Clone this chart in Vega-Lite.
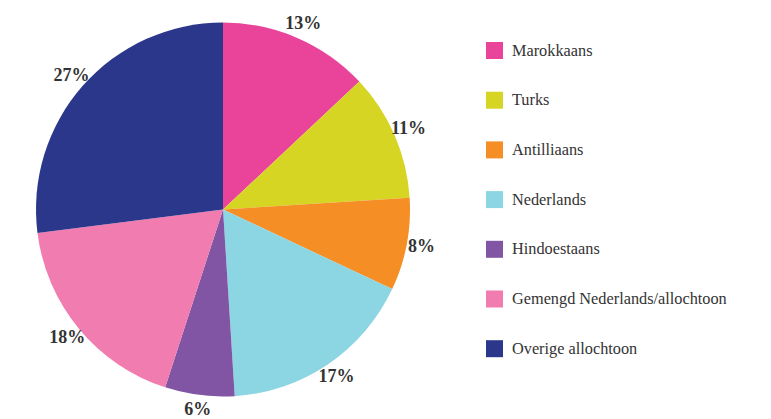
{
  "$schema": "https://vega.github.io/schema/vega-lite/v6.json",
  "width": 446,
  "height": 419,
  "padding": {"left": 0, "top": 0, "right": 325, "bottom": 0},
  "autosize": {"type": "none"},
  "background": "white",
  "config": {"view": {"stroke": null}},
  "data": {
    "values": [
      {"groep": "Marokkaans", "pct": 13, "volgorde": 1, "label": "13%"},
      {"groep": "Turks", "pct": 11, "volgorde": 2, "label": "11%"},
      {"groep": "Antilliaans", "pct": 8, "volgorde": 3, "label": "8%"},
      {"groep": "Nederlands", "pct": 17, "volgorde": 4, "label": "17%"},
      {"groep": "Hindoestaans", "pct": 6, "volgorde": 5, "label": "6%"},
      {"groep": "Gemengd Nederlands/allochtoon", "pct": 18, "volgorde": 6, "label": "18%"},
      {"groep": "Overige allochtoon", "pct": 27, "volgorde": 7, "label": "27%"}
    ]
  },
  "encoding": {
    "theta": {"field": "pct", "type": "quantitative", "stack": true},
    "order": {"field": "volgorde", "type": "quantitative"}
  },
  "layer": [
    {
      "mark": {"type": "arc", "outerRadius": 187},
      "encoding": {
        "color": {
          "field": "groep",
          "type": "nominal",
          "scale": {
            "domain": ["Marokkaans", "Turks", "Antilliaans", "Nederlands", "Hindoestaans", "Gemengd Nederlands/allochtoon", "Overige allochtoon"],
            "range": ["#e9439a", "#d7d523", "#f48e25", "#8cd5e3", "#8155a4", "#f17caf", "#2b378a"]
          },
          "legend": {
            "title": null,
            "orient": "none",
            "legendX": 486,
            "legendY": 42,
            "padding": 0,
            "symbolType": "square",
            "symbolSize": 289,
            "symbolStrokeWidth": 0,
            "symbolOpacity": 1,
            "rowPadding": 32.7,
            "labelOffset": 9,
            "labelFont": "Liberation Serif",
            "labelFontSize": 16.3,
            "labelColor": "#333333",
            "labelLimit": 300
          }
        }
      }
    },
    {
      "mark": {"type": "text", "radius": 202, "font": "Liberation Serif", "fontSize": 18, "fontWeight": "bold", "color": "#333333", "align": "center", "baseline": "middle"},
      "encoding": {
        "text": {"field": "label", "type": "nominal"}
      }
    }
  ]
}
